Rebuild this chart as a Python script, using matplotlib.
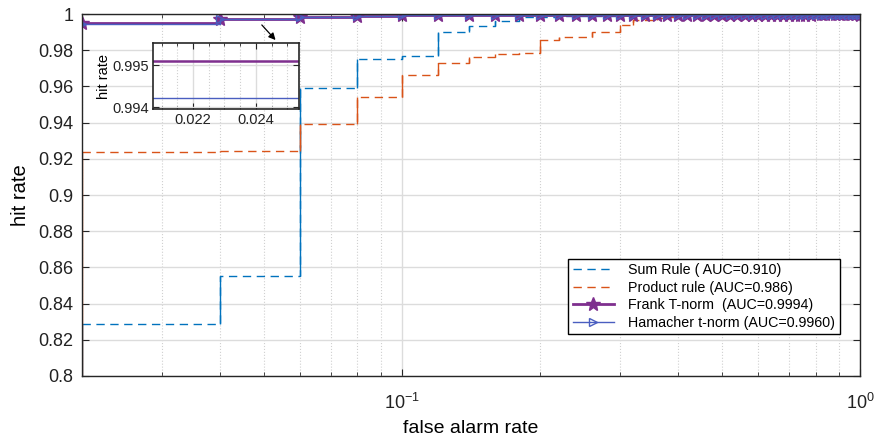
import numpy as np
import matplotlib
matplotlib.use("Agg")
from matplotlib import pyplot as plt
from matplotlib.ticker import FixedLocator, NullFormatter, FuncFormatter, MultipleLocator

plt.rcParams['font.family'] = ['Liberation Sans', 'DejaVu Sans']
plt.rcParams['mathtext.default'] = 'regular'

# false alarm rate grid (0.02 ... 1.00)
far = [round(0.02 * k, 2) for k in range(1, 51)]

sum_rule = [0.829, 0.855, 0.959, 0.975, 0.977, 0.990, 0.9934, 0.9963, 0.9982, 0.9985,
            0.9988, 0.9990, 0.9990, 0.9991, 0.9992, 0.9992, 0.9993, 0.9993, 0.9994, 0.9994,
            0.9995, 0.9995, 0.9995, 0.9996, 0.9996, 0.9996, 0.9996, 0.9997, 0.9997, 0.9997,
            0.9997, 0.9998, 0.9998, 0.9998, 0.9998, 0.9998, 0.9999, 0.9999, 0.9999, 1.0,
            1.0, 1.0, 1.0, 1.0, 1.0, 1.0, 1.0, 1.0, 1.0, 1.0]
product_rule = [0.9235, 0.9245, 0.9392, 0.9543, 0.9662, 0.9731, 0.9760, 0.9780, 0.9783, 0.9856,
                0.9873, 0.9873, 0.9900, 0.9900, 0.9938, 0.9967, 0.9968, 0.9980, 0.9982, 0.9985,
                0.9987, 0.9988, 0.9990, 0.9990, 0.9991, 0.9992, 0.9992, 0.9993, 0.9993, 0.9994,
                0.9994, 0.9995, 0.9995, 0.9996, 0.9996, 0.9996, 0.9997, 0.9997, 0.9997, 0.9998,
                0.9998, 0.9998, 0.9999, 0.9999, 0.9999, 1.0, 1.0, 1.0, 1.0, 1.0]
frank = [0.9951, 0.9974, 0.9983, 0.9990, 0.9993, 0.9994, 0.9995, 0.9995, 0.9995, 0.9996,
         0.9996, 0.9996, 0.9996, 0.9996, 0.9996, 0.9996, 0.9996, 0.9996, 0.9996, 0.9996,
         0.9996, 0.9996, 0.9996, 0.9996, 0.9996, 0.9996, 0.9996, 0.9996, 0.9996, 0.9996,
         0.9996, 0.9996, 0.9996, 0.9996, 0.9996, 0.9996, 0.9996, 0.9996, 0.9997, 1.0,
         1.0, 1.0, 1.0, 1.0, 1.0, 1.0, 1.0, 1.0, 1.0, 0.9996]
hamacher = [0.99423, 0.9972, 0.9982, 0.9989, 0.9992, 0.9993, 0.9994, 0.9994, 0.9995, 0.9995,
            0.9995, 0.9995, 0.9995, 0.9995, 0.9995, 0.9995, 0.9995, 0.9995, 0.9995, 0.9995,
            0.9995, 0.9995, 0.9995, 0.9995, 0.9995, 0.9995, 0.9995, 0.9995, 0.9995, 0.9995,
            0.9995, 0.9995, 0.9995, 0.9995, 0.9995, 0.9995, 0.9995, 0.9995, 0.9996, 0.9996,
            0.9996, 0.9996, 0.9996, 0.9996, 0.9996, 0.9996, 0.9996, 0.9996, 0.9996, 0.9996]

labels = ['Sum Rule ( AUC=0.910)', 'Product rule (AUC=0.986)',
          'Frank T-norm  (AUC=0.9994)', 'Hamacher t-norm (AUC=0.9960)']
yticks = [0.8, 0.82, 0.84, 0.86, 0.88, 0.9, 0.92, 0.94, 0.96, 0.98, 1.0]

c_sum = '#0072BD'
c_prod = '#D95319'
c_frank = '#7E2F8E'
c_ham = '#4A5EC0'
axcol = '#262626'

fig = plt.figure(figsize=(8.78, 4.41), dpi=100)
ax = fig.add_axes([0.093, 0.1474, 0.8865, 0.8208])
ymin = 0.8


def dashed_stairs(ax, x, y, color, label):
    ax.step(x, y, where='post', color=color, lw=1.0, dashes=(6, 4), label=label)
    # vertical jumps look solid in the original
    lows = [ymin] + list(y[:-1])
    ax.vlines(x, lows, y, color=color, lw=1.0)


dashed_stairs(ax, far, sum_rule, c_sum, labels[0])
dashed_stairs(ax, far, product_rule, c_prod, labels[1])
ax.step(far, frank, where='post', color=c_frank, lw=2.0, marker='*', ms=10.5,
        label=labels[2])
ax.step(far, hamacher, where='post', color=c_ham, lw=1.0, marker='>', ms=6,
        mfc='none', mew=1.0, label=labels[3])

ax.set_xscale('log')
ax.set_xlim(0.02, 1)
ax.set_ylim(ymin, 1)
ax.set_yticks(yticks)
ax.yaxis.set_major_formatter(FuncFormatter(lambda v, p: '%g' % round(v, 2)))
ax.xaxis.set_minor_formatter(NullFormatter())
ax.tick_params(which='both', direction='in', top=True, right=True, color=axcol,
               labelsize=13, labelcolor='#222222')
ax.tick_params(axis='x', which='major', pad=12)
ax.tick_params(axis='y', which='major', pad=6)
ax.tick_params(which='major', length=5)
ax.tick_params(which='minor', length=3)
ax.grid(True, which='major', color='#dcdcdc', lw=1.0)
ax.grid(True, which='minor', axis='x', color='#d0d0d0', lw=0.8, ls=':')
ax.set_axisbelow(True)
for s in ax.spines.values():
    s.set_color(axcol)
    s.set_linewidth(1.0)
ax.set_xlabel('false alarm rate', fontsize=14, labelpad=5)
ax.set_ylabel('hit rate', fontsize=14.5, labelpad=6)

leg = ax.legend(loc='lower right', bbox_to_anchor=(0.974, 0.116), fontsize=10.3,
                frameon=True, fancybox=False, edgecolor='k', framealpha=1,
                handlelength=2.9, labelspacing=0.25, borderpad=0.3,
                handletextpad=1.0, borderaxespad=0)
leg.get_frame().set_linewidth(1.0)

# arrow to inset
ax.annotate('', xy=(0.0535, 0.9845), xytext=(0.049, 0.9951),
            arrowprops=dict(arrowstyle='-|>', color='k', lw=0.9, mutation_scale=10))

# inset zoom
axin = fig.add_axes([0.174, 0.7522, 0.1666, 0.1496])
axin.step(far, frank, where='post', color=c_frank, lw=1.8)
axin.step(far, hamacher, where='post', color=c_ham, lw=1.0)
axin.set_xlim(0.02072, 0.02537)
axin.set_ylim(0.99395, 0.99552)
axin.set_xticks([0.022, 0.024])
axin.set_yticks([0.994, 0.995])
axin.xaxis.set_major_formatter(FuncFormatter(lambda v, p: '%g' % round(v, 3)))
axin.yaxis.set_major_formatter(FuncFormatter(lambda v, p: '%g' % round(v, 3)))
axin.xaxis.set_minor_locator(MultipleLocator(0.0005))
axin.tick_params(which='both', direction='in', top=True, right=True, color=axcol,
                 labelsize=10.5, labelcolor='#222222', pad=3)
axin.tick_params(which='major', length=4)
axin.tick_params(which='minor', length=2)
axin.grid(True, which='major', color='#dcdcdc', lw=1.0)
axin.grid(True, which='minor', axis='x', color='#d0d0d0', lw=0.8, ls=':')
axin.set_axisbelow(True)
for s in axin.spines.values():
    s.set_color(axcol)
    s.set_linewidth(1.2)
axin.set_ylabel('hit rate', fontsize=10.5, labelpad=1)

fig.savefig('out.png', dpi=100)
